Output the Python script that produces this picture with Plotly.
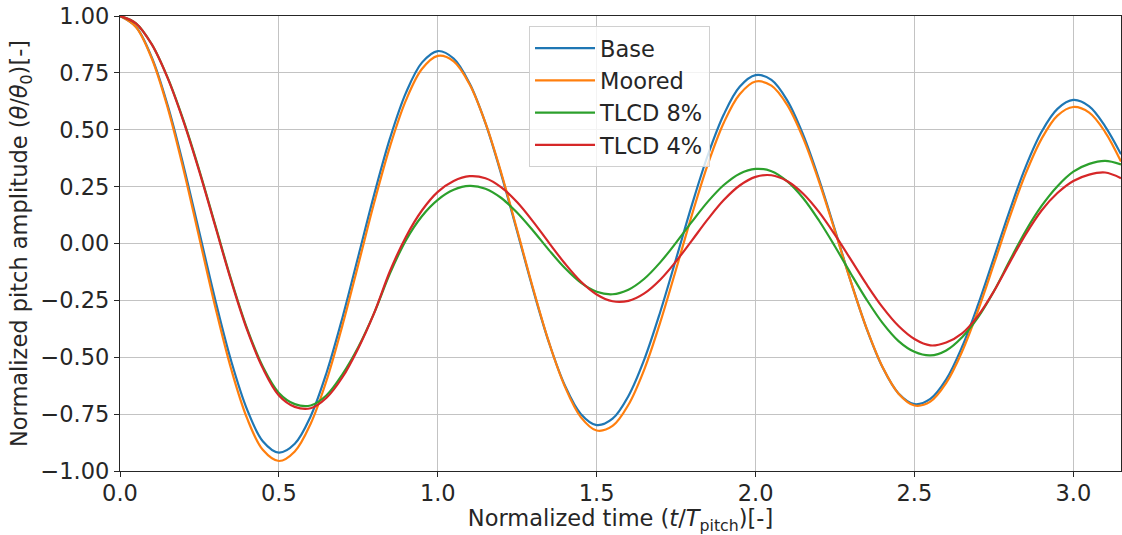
import plotly.graph_objects as go

# ---- data (normalized time, normalized pitch) ----
time = [0.00, 0.05, 0.10, 0.15, 0.20, 0.25, 0.30, 0.35, 0.40, 0.45,
        0.50, 0.55, 0.60, 0.65, 0.70, 0.75, 0.80, 0.85, 0.90, 0.95,
        1.00, 1.05, 1.10, 1.15, 1.20, 1.25, 1.30, 1.35, 1.40, 1.45,
        1.50, 1.55, 1.60, 1.65, 1.70, 1.75, 1.80, 1.85, 1.90, 1.95,
        2.00, 2.05, 2.10, 2.15, 2.20, 2.25, 2.30, 2.35, 2.40, 2.45,
        2.50, 2.55, 2.60, 2.65, 2.70, 2.75, 2.80, 2.85, 2.90, 2.95,
        3.00, 3.05, 3.10, 3.15]

base = [1.0, 0.953, 0.818, 0.607, 0.341, 0.047, -0.249, -0.517, -0.730, -0.870,
        -0.919, -0.880, -0.759, -0.568, -0.326, -0.056, 0.216, 0.464, 0.663, 0.795,
        0.846, 0.813, 0.704, 0.529, 0.303, 0.052, -0.203, -0.436, -0.624, -0.749,
        -0.798, -0.770, -0.670, -0.509, -0.301, -0.067, 0.171, 0.389, 0.567, 0.689,
        0.740, 0.719, 0.628, 0.477, 0.281, 0.059, -0.168, -0.376, -0.545, -0.659,
        -0.706, -0.683, -0.597, -0.454, -0.270, -0.063, 0.146, 0.337, 0.491, 0.592,
        0.631, 0.603, 0.515, 0.392]

moored = [1.0, 0.952, 0.813, 0.597, 0.324, 0.022, -0.280, -0.553, -0.769, -0.908,
          -0.956, -0.914, -0.792, -0.602, -0.360, -0.092, 0.180, 0.428, 0.630, 0.767,
          0.825, 0.801, 0.700, 0.530, 0.309, 0.058, -0.198, -0.435, -0.629, -0.763,
          -0.822, -0.802, -0.709, -0.553, -0.347, -0.113, 0.127, 0.349, 0.531, 0.656,
          0.712, 0.694, 0.608, 0.462, 0.271, 0.054, -0.169, -0.375, -0.544, -0.660,
          -0.712, -0.695, -0.613, -0.475, -0.295, -0.091, 0.117, 0.307, 0.460, 0.562,
          0.600, 0.575, 0.490, 0.360]

tlcd_8 = [1.0, 0.968, 0.876, 0.729, 0.540, 0.320, 0.080, -0.160, -0.374, -0.543,
          -0.657, -0.706, -0.712, -0.667, -0.575, -0.455, -0.305, -0.130, 0.015, 0.120,
          0.192, 0.236, 0.253, 0.241, 0.200, 0.135, 0.056, -0.029, -0.108, -0.172,
          -0.212, -0.223, -0.203, -0.155, -0.083, 0.004, 0.096, 0.184, 0.257, 0.307,
          0.328, 0.318, 0.273, 0.199, 0.100, -0.013, -0.133, -0.248, -0.350, -0.429,
          -0.476, -0.492, -0.470, -0.412, -0.325, -0.210, -0.075, 0.055, 0.165, 0.252,
          0.316, 0.350, 0.363, 0.348]

tlcd_4 = [1.0, 0.968, 0.875, 0.727, 0.536, 0.315, 0.075, -0.165, -0.380, -0.550,
          -0.668, -0.718, -0.724, -0.678, -0.588, -0.460, -0.305, -0.120, 0.030, 0.145,
          0.227, 0.275, 0.296, 0.287, 0.247, 0.181, 0.096, 0.003, -0.088, -0.167,
          -0.224, -0.254, -0.252, -0.219, -0.159, -0.078, 0.014, 0.107, 0.191, 0.255,
          0.293, 0.300, 0.274, 0.219, 0.138, 0.038, -0.071, -0.181, -0.281, -0.363,
          -0.420, -0.448, -0.435, -0.395, -0.318, -0.210, -0.083, 0.040, 0.145, 0.222,
          0.275, 0.303, 0.312, 0.287]

series_names = ["Base", "Moored", "TLCD 8%", "TLCD 4%"]
series_colors = ["#1f77b4", "#ff7f0e", "#2ca02c", "#d62728"]

x_ticks = [0.0, 0.5, 1.0, 1.5, 2.0, 2.5, 3.0]
y_ticks = [-1.0, -0.75, -0.5, -0.25, 0.0, 0.25, 0.5, 0.75, 1.0]

FONT = "DejaVu Sans, Arial, sans-serif"
TXT = "#262626"
FS = 22.5

fig = go.Figure()
for name, col, v in zip(series_names, series_colors, [base, moored, tlcd_8, tlcd_4]):
    fig.add_trace(go.Scatter(x=time, y=v, mode="lines", name=name, legendgroup=name,
                             line=dict(color=col, width=2.2, shape="spline", smoothing=1.0)))

axis_common = dict(
    showline=True, linecolor=TXT, linewidth=1.2, mirror=True,
    ticks="outside", ticklen=5, tickwidth=1.2, tickcolor=TXT,
    showgrid=True, gridcolor="#c3c3c3", gridwidth=1.2,
    zeroline=False,
    tickfont=dict(family=FONT, size=FS, color=TXT),
)

fig.update_xaxes(range=[0, 3.15], tickvals=x_ticks, tickformat=".1f",
                 ticklabelstandoff=-3,
                 title=dict(text="Normalized time (<i>t</i>/<i>T</i><sub>pitch</sub>)[-]",
                            font=dict(family=FONT, size=FS, color=TXT), standoff=7),
                 automargin=False, **axis_common)
fig.update_yaxes(range=[-1, 1], tickvals=y_ticks, tickformat=".2f",
                 title=dict(text="Normalized pitch amplitude (<i>θ</i>/<i>θ</i><sub>0</sub>)[-]",
                            font=dict(family=FONT, size=FS, color=TXT), standoff=6),
                 automargin=False, **axis_common)

fig.update_layout(
    width=1122, height=535,
    margin=dict(l=120, r=1, t=16, b=64),
    paper_bgcolor="white", plot_bgcolor="white",
    font=dict(family=FONT, size=FS, color=TXT),
    showlegend=True,
    legend=dict(x=0.4086, y=0.9780, xanchor="left", yanchor="top",
                bgcolor="rgba(255,255,255,0.8)", bordercolor="#d0d0d0", borderwidth=1,
                font=dict(family=FONT, size=FS, color=TXT), tracegroupgap=0,
                itemwidth=60),
)

fig.write_html("out.html")
